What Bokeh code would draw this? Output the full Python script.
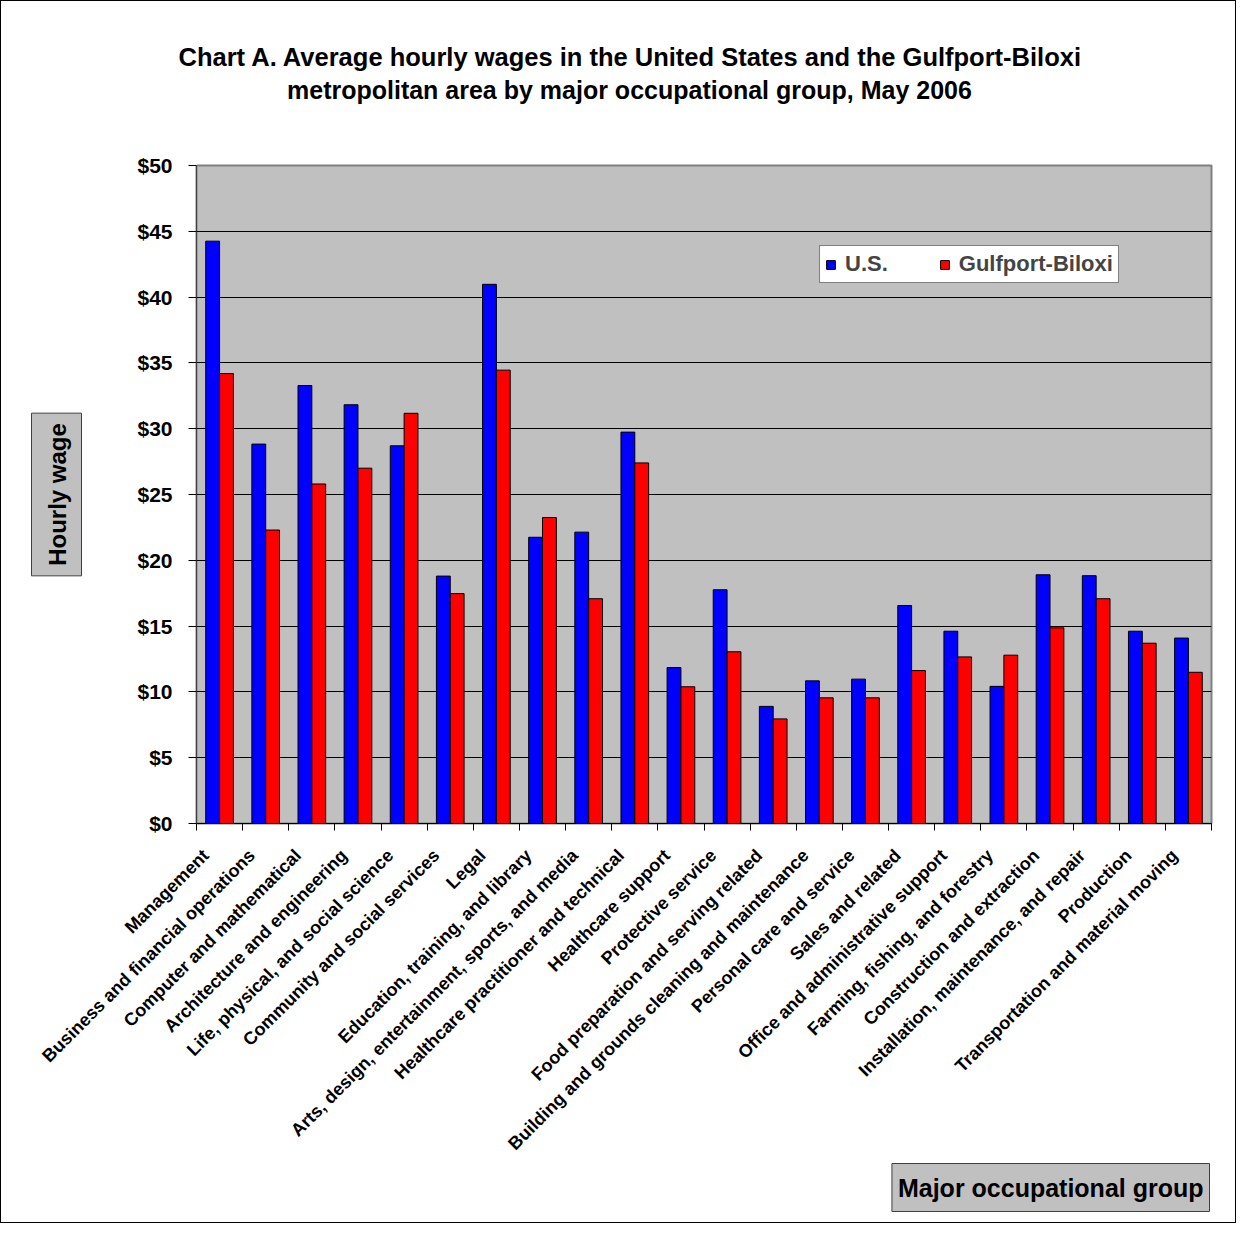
import numpy as np
from bokeh.plotting import figure
from bokeh.models import (Range1d, FixedTicker, NumeralTickFormatter, Title, LinearAxis,
                          Legend, LegendItem, ColumnDataSource)
from bokeh.transform import dodge
from bokeh.embed import file_html
from bokeh.resources import INLINE

# ---- data ----
categories = [
    "Management",
    "Business and financial operations",
    "Computer and mathematical",
    "Architecture and engineering",
    "Life, physical, and social science",
    "Community and social services",
    "Legal",
    "Education, training, and library",
    "Arts, design, entertainment, sports, and media",
    "Healthcare practitioner and technical",
    "Healthcare support",
    "Protective service",
    "Food preparation and serving related",
    "Building and grounds cleaning and maintenance",
    "Personal care and service",
    "Sales and related",
    "Office and administrative support",
    "Farming, fishing, and forestry",
    "Construction and extraction",
    "Installation, maintenance, and repair",
    "Production",
    "Transportation and material moving",
]
us_wages = [44.25, 28.83, 33.28, 31.82, 28.70, 18.80, 40.97, 21.75, 22.14, 29.74, 11.85,
            17.76, 8.90, 10.84, 10.97, 16.56, 14.61, 10.42, 18.90, 18.83, 14.61, 14.09]
gb_wages = [34.19, 22.30, 25.80, 27.00, 31.17, 17.47, 34.45, 23.25, 17.08, 27.40, 10.39,
            13.05, 7.95, 9.55, 9.55, 11.62, 12.66, 12.79, 14.87, 17.08, 13.70, 11.49]
series_names = ["U.S.", "Gulfport-Biloxi"]
y_ticks = [0, 5, 10, 15, 20, 25, 30, 35, 40, 45, 50]
title_lines = ["Chart A. Average hourly wages in the United States and the Gulfport-Biloxi",
               "metropolitan area by major occupational group, May 2006"]
y_title = "Hourly wage"
x_title = "Major occupational group"

FONT = "Liberation Sans"
W, H = 1236, 1223
ML, MT = 195, 164
MR, MB = W - 1210, H - 822

n = len(categories)
centers = np.arange(n) + 0.5
label_pos = np.arange(n) + 0.2
src = ColumnDataSource(dict(x=centers, us=us_wages, gb=gb_wages))

p = figure(width=W, height=H, output_backend="svg", toolbar_location=None, tools="",
           x_range=Range1d(0, n), y_range=Range1d(0, 50),
           min_border_left=ML, min_border_right=MR, min_border_top=MT, min_border_bottom=MB,
           background_fill_color="#C0C0C0", border_fill_color="white",
           outline_line_color="#808080", outline_line_width=2)
p.styles = {"border": "1px solid black"}

r_us = p.vbar(x=dodge("x", -0.15, range=p.x_range), top="us", width=0.3, bottom=0,
              source=src, fill_color="#0000FF", line_color="black", line_width=1)
r_gb = p.vbar(x=dodge("x", 0.15, range=p.x_range), top="gb", width=0.3, bottom=0,
              source=src, fill_color="#FF0000", line_color="black", line_width=1)

# x axis: labels under each group, ticks at category boundaries (minor ticks)
xa = p.xaxis[0]
xa.ticker = FixedTicker(ticks=list(label_pos), minor_ticks=list(range(n + 1)))
xa.major_label_overrides = {float(c): name for c, name in zip(label_pos, categories)}
xa.major_label_orientation = np.pi / 4
xa.major_tick_out = 0
xa.major_tick_in = 0
xa.minor_tick_out = 7
xa.minor_tick_in = 0
xa.minor_tick_line_color = "black"
xa.axis_line_color = "black"
xa.major_label_standoff = 22
xa.major_label_text_font = FONT
xa.major_label_text_font_style = "bold"
xa.major_label_text_font_size = "18px"
xa.major_label_text_color = "black"
p.xgrid.visible = False

ya = p.yaxis[0]
ya.ticker = FixedTicker(ticks=y_ticks)
ya.formatter = NumeralTickFormatter(format="$0")
ya.major_tick_out = 8
ya.major_tick_in = 0
ya.minor_tick_line_color = None
ya.major_tick_line_color = "black"
ya.axis_line_color = "#404040"
ya.major_label_standoff = 16
ya.major_label_text_font = FONT
ya.major_label_text_font_style = "bold"
ya.major_label_text_font_size = "21px"
ya.major_label_text_color = "black"
p.ygrid.grid_line_color = "black"
p.ygrid.grid_line_width = 1


def gap(size):
    """an empty side panel (white tick on white) used only to leave space"""
    return LinearAxis(ticker=FixedTicker(ticks=[0]), major_label_overrides={0: ""},
                      major_label_text_font_size="1px", major_label_standoff=0,
                      axis_line_color=None, major_tick_out=size, major_tick_in=0,
                      major_tick_line_color="white", minor_tick_line_color=None)


# legend
legend = Legend(items=[LegendItem(label=series_names[0], renderers=[r_us]),
                       LegendItem(label=series_names[1], renderers=[r_gb])],
                orientation="horizontal", location=(623, 540),
                border_line_color="black", border_line_width=1,
                background_fill_color="white", background_fill_alpha=1.0,
                padding=5, spacing=51, label_standoff=9, margin=0,
                glyph_width=11, glyph_height=11,
                label_text_font=FONT, label_text_font_style="bold",
                label_text_font_size="22px")
p.add_layout(legend)

tstyle = dict(text_font=FONT, text_font_style="bold", text_color="black")

# chart title (two centred lines), above the plot
p.add_layout(gap(60), "above")
p.add_layout(Title(text=title_lines[1], align="left", offset=90.5, standoff=3,
                   vertical_align="bottom", text_font_size="25px", **tstyle), "above")
p.add_layout(Title(text=title_lines[0], align="left", offset=-18, standoff=3,
                   vertical_align="bottom", text_font_size="25.5px", **tstyle), "above")

# y axis title in a grey box
p.add_layout(gap(48), "left")
p.add_layout(Title(text=y_title, align="center", standoff=10, text_font_size="24px",
                   background_fill_color="#C0C0C0", border_line_color="#404040",
                   border_line_width=1, padding=dict(left=10, right=10, top=12, bottom=11),
                   **tstyle), "left")

# x axis title in a grey box, bottom right
p.add_layout(Title(text=x_title, align="right", offset=2, standoff=0,
                   vertical_align="top", text_font_size="25px",
                   background_fill_color="#C0C0C0", border_line_color="#404040",
                   border_line_width=1, padding=dict(left=6, right=6, top=10, bottom=10),
                   **tstyle), "below")

open("out.html", "w").write(file_html(p, INLINE))
